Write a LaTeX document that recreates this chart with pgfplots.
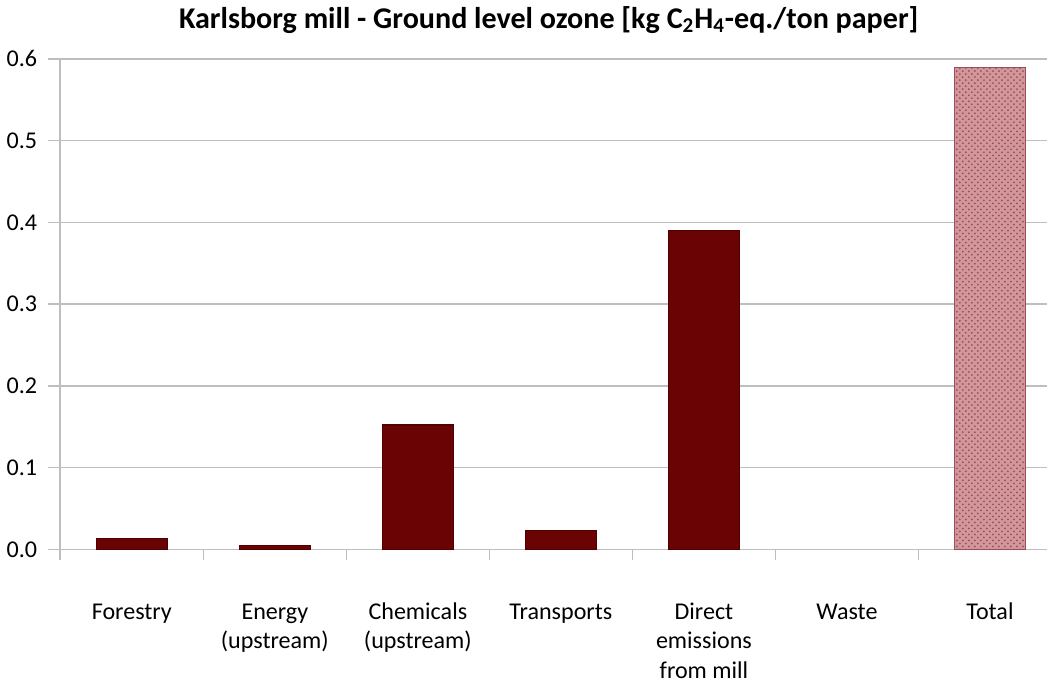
\documentclass[border=0pt]{standalone}
\usepackage{pgfplots}
\pgfplotsset{compat=1.18}
\usepackage{fontspec}
\setmainfont{Carlito}
\usetikzlibrary{patterns}
\definecolor{barred}{RGB}{106,4,4}
\definecolor{baredge}{RGB}{80,0,0}
\definecolor{totfill}{RGB}{210,150,155}
\definecolor{totline}{RGB}{150,80,86}
\definecolor{gridgray}{RGB}{190,190,190}
\begin{document}
\begin{tikzpicture}
\begin{axis}[
    scale only axis,
    width=492pt, height=244.5pt,
    xmin=-0.5, xmax=6.4,
    ymin=0, ymax=0.6,
    ytick={0,0.1,...,0.6},
    axis x line*=bottom, axis y line*=left,
    axis line style={gridgray, line width=0.8pt},
    ymajorgrids, grid style={gridgray, line width=0.8pt},
    xtick={0,...,6},
    xticklabels={Forestry, Energy\\(upstream), Chemicals\\(upstream), Transports, Direct\\emissions\\from mill, Waste, Total},
    minor xtick={-0.5,0.5,...,5.5},
    major x tick style={draw=none},
    minor x tick style={gridgray, line width=0.8pt},
    minor tick length=5.5pt,
    major tick length=6pt,
    y tick style={gridgray, line width=0.8pt},
    tick align=outside,
    typeset ticklabels with strut,
    xticklabel style={align=center, anchor=north, font=\fontsize{12}{14.5}\selectfont, yshift=-15.5pt},
    yticklabel style={font=\fontsize{12}{14.5}\selectfont, xshift=-2pt},
    /pgf/number format/assume math mode=true,
    yticklabel={\pgfmathprintnumber[fixed, fixed zerofill, precision=1]{\tick}},
    title={Karlsborg mill - Ground level ozone [kg C\textsubscript{2}H\textsubscript{4}-eq./ton paper]},
    title style={font=\bfseries\fontsize{15}{17}\selectfont, xshift=-2.5pt, yshift=3pt},
    ybar, bar width=35.5pt, bar shift=0pt,
  ]
  \addplot[fill=barred, draw=baredge, line width=0.6pt] coordinates {
    (0,0.013) (1,0.005) (2,0.152) (3,0.023) (4,0.390)
  };
  \addplot[fill=totfill, draw=totline, line width=0.6pt,
    postaction={pattern=crosshatch dots, pattern color=totline}] coordinates {
    (6,0.589)
  };
\end{axis}
\end{tikzpicture}
\end{document}
